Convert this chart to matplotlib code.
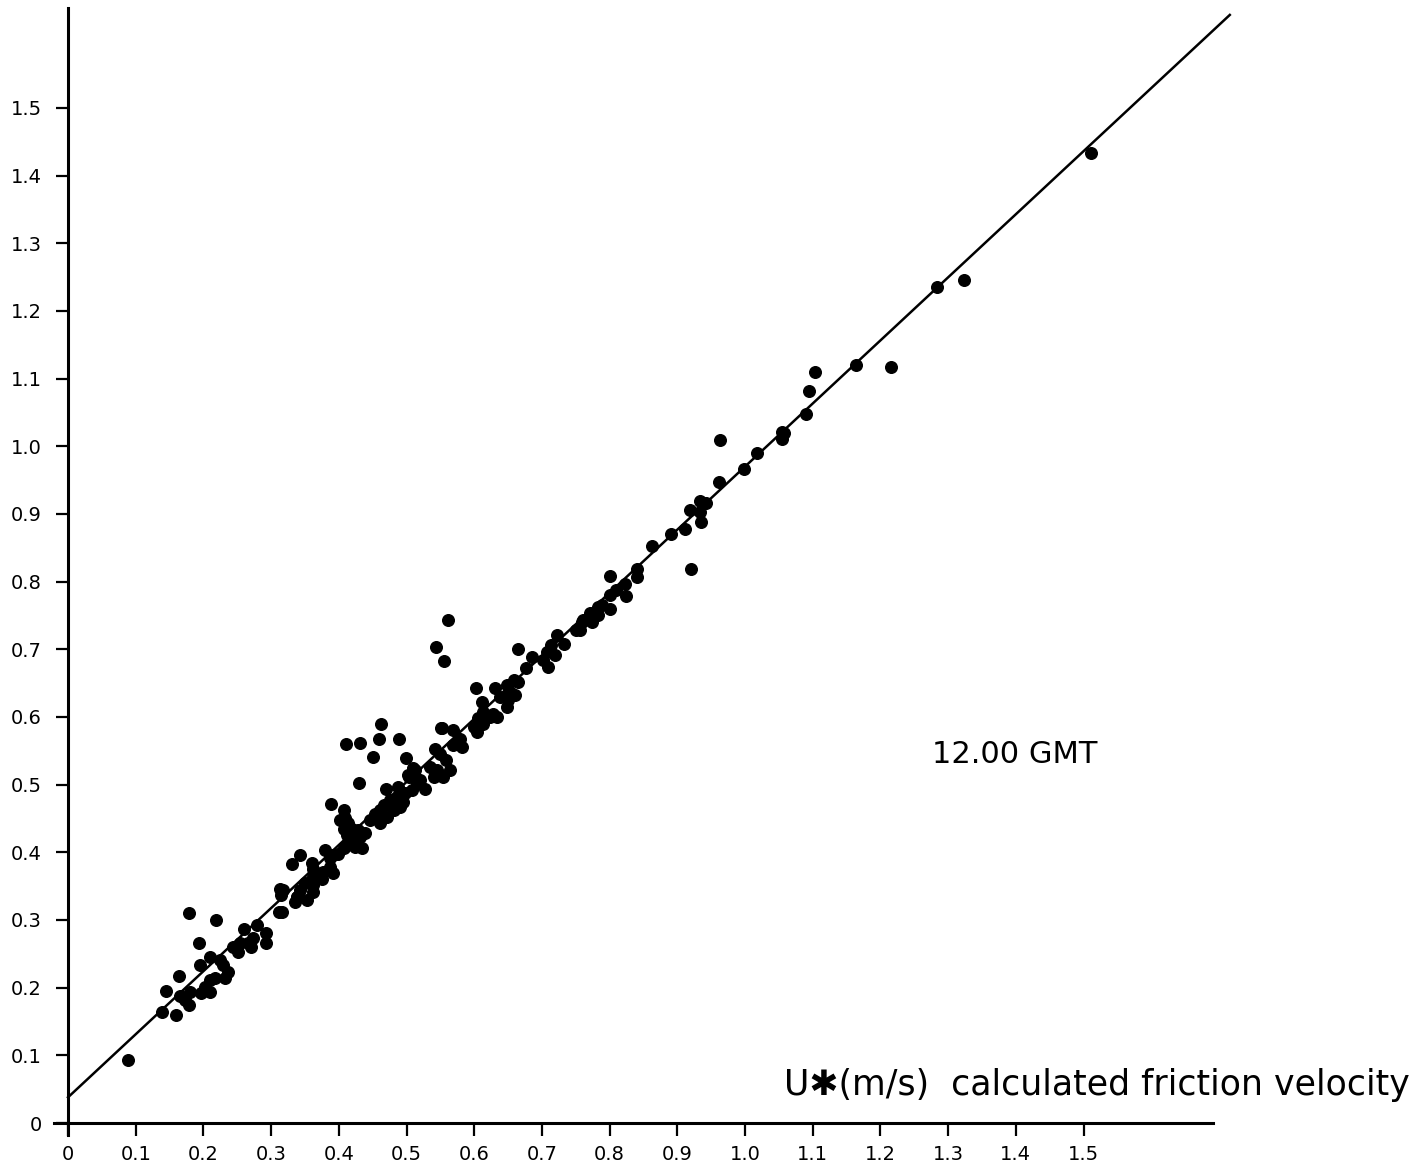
import matplotlib.pyplot as plt
import numpy as np

# calculated friction velocity (x) vs. measured (y), 12.00 GMT
u_calc = [
    0.089, 0.139, 0.144, 0.160, 0.164, 0.165, 0.173, 0.178, 0.180, 0.179,
    0.193, 0.195, 0.197, 0.202, 0.210, 0.210, 0.210, 0.217, 0.219, 0.225,
    0.229, 0.232, 0.236, 0.244, 0.251, 0.254, 0.260, 0.266, 0.271, 0.273,
    0.279, 0.293, 0.293, 0.312, 0.313, 0.314, 0.316, 0.318, 0.331, 0.338,
    0.335, 0.338, 0.343, 0.343, 0.350, 0.353, 0.360, 0.362, 0.362, 0.362,
    0.362, 0.375, 0.377, 0.380, 0.387, 0.387, 0.389, 0.392, 0.392, 0.399,
    0.402, 0.407, 0.407, 0.407, 0.409, 0.410, 0.412, 0.412, 0.414, 0.419,
    0.419, 0.424, 0.429, 0.430, 0.431, 0.432, 0.434, 0.439, 0.446, 0.451,
    0.453, 0.460, 0.461, 0.461, 0.462, 0.466, 0.470, 0.471, 0.476, 0.481,
    0.486, 0.488, 0.489, 0.490, 0.495, 0.498, 0.499, 0.502, 0.503, 0.508,
    0.510, 0.513, 0.515, 0.520, 0.527, 0.535, 0.540, 0.542, 0.543, 0.545,
    0.549, 0.551, 0.552, 0.554, 0.556, 0.559, 0.561, 0.564, 0.569, 0.569,
    0.579, 0.582, 0.599, 0.603, 0.604, 0.606, 0.611, 0.613, 0.613, 0.623,
    0.628, 0.631, 0.633, 0.638, 0.648, 0.648, 0.650, 0.653, 0.658, 0.660,
    0.664, 0.665, 0.677, 0.685, 0.702, 0.707, 0.709, 0.714, 0.719, 0.722,
    0.732, 0.751, 0.756, 0.759, 0.761, 0.771, 0.771, 0.774, 0.783, 0.783,
    0.788, 0.801, 0.801, 0.801, 0.810, 0.823, 0.824, 0.840, 0.841, 0.862,
    0.890, 0.911, 0.919, 0.920, 0.933, 0.934, 0.935, 0.943, 0.962, 0.963,
    0.999, 1.018, 1.054, 1.054, 1.058, 1.090, 1.094, 1.103, 1.164, 1.215,
    1.283, 1.323, 1.511,
]
u_meas = [
    0.093, 0.164, 0.195, 0.160, 0.217, 0.187, 0.182, 0.174, 0.194, 0.311,
    0.266, 0.233, 0.192, 0.201, 0.211, 0.194, 0.246, 0.214, 0.300, 0.241,
    0.233, 0.214, 0.223, 0.260, 0.253, 0.266, 0.286, 0.266, 0.260, 0.273,
    0.292, 0.281, 0.266, 0.312, 0.346, 0.337, 0.312, 0.344, 0.383, 0.334,
    0.327, 0.334, 0.396, 0.344, 0.354, 0.329, 0.384, 0.376, 0.364, 0.352,
    0.342, 0.361, 0.371, 0.403, 0.379, 0.391, 0.471, 0.369, 0.396, 0.398,
    0.448, 0.462, 0.435, 0.406, 0.450, 0.560, 0.425, 0.411, 0.443, 0.435,
    0.418, 0.408, 0.433, 0.503, 0.423, 0.561, 0.406, 0.428, 0.448, 0.541,
    0.457, 0.568, 0.462, 0.443, 0.590, 0.470, 0.494, 0.452, 0.477, 0.462,
    0.482, 0.497, 0.568, 0.467, 0.475, 0.487, 0.540, 0.514, 0.512, 0.492,
    0.524, 0.521, 0.502, 0.507, 0.494, 0.526, 0.512, 0.553, 0.704, 0.521,
    0.546, 0.584, 0.583, 0.512, 0.682, 0.536, 0.743, 0.521, 0.580, 0.558,
    0.568, 0.556, 0.585, 0.643, 0.578, 0.598, 0.622, 0.608, 0.590, 0.600,
    0.605, 0.643, 0.600, 0.630, 0.647, 0.615, 0.625, 0.637, 0.654, 0.632,
    0.700, 0.652, 0.672, 0.689, 0.684, 0.696, 0.674, 0.706, 0.691, 0.721,
    0.708, 0.728, 0.728, 0.741, 0.743, 0.753, 0.743, 0.741, 0.763, 0.750,
    0.765, 0.809, 0.780, 0.759, 0.787, 0.797, 0.779, 0.819, 0.807, 0.852,
    0.871, 0.877, 0.906, 0.818, 0.919, 0.903, 0.888, 0.916, 0.947, 1.009,
    0.967, 0.990, 1.021, 1.011, 1.020, 1.048, 1.082, 1.110, 1.120, 1.117,
    1.236, 1.246, 1.433,
]

# fitted line
intercept = 0.038
slope = 0.932

fig = plt.figure(figsize=(14.17, 11.73), dpi=100)
ax = fig.add_axes([0.048, 0.0426, 0.8218, 0.952])

ax.scatter(u_calc, u_meas, s=70, color='black', zorder=3)

xfit = np.array([0.0, 1.716])
ax.plot(xfit, intercept + slope * xfit, color='black', linewidth=1.8, clip_on=False)

ax.set_xlim(0, 1.72)
ax.set_ylim(0, 1.65)

ticks = [round(0.1 * i, 1) for i in range(16)]
labels = ['0'] + ['%.1f' % t for t in ticks[1:]]
ax.set_xticks(ticks)
ax.set_xticklabels(labels, fontsize=14)
ax.set_yticks(ticks)
ax.set_yticklabels(labels, fontsize=14)
ax.tick_params(axis='both', direction='out', length=9, width=1.6)
ax.tick_params(axis='y', pad=10)
ax.tick_params(axis='x', pad=7)

ax.spines['top'].set_visible(False)
ax.spines['right'].set_visible(False)
ax.spines['left'].set_linewidth(2.2)
ax.spines['bottom'].set_linewidth(2.2)
ax.spines['left'].set_bounds(-0.018, 1.647)
ax.spines['bottom'].set_bounds(-0.02, 1.691)

ax.text(1.399, 0.544, '12.00 GMT', fontsize=22, ha='center', va='center')
fig.text(1410 / 1417, 1 - 1085 / 1173, 'U\u2731(m/s)  calculated friction velocity',
         fontsize=25, ha='right', va='center')

fig.savefig('out.png', dpi=100, facecolor='white')
